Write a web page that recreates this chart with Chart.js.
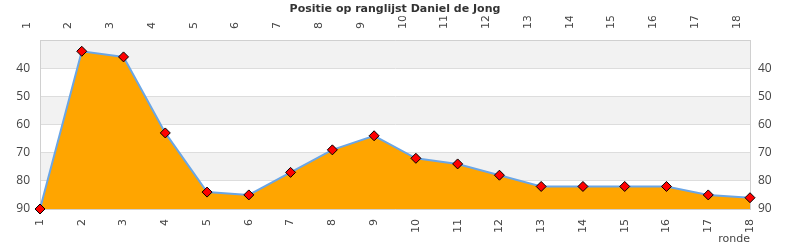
<!DOCTYPE html>
<html>
<head>
<meta charset="utf-8">
<script src="https://cdn.jsdelivr.net/npm/chart.js@4"></script>
<style>
html,body{margin:0;padding:0;background:#fff;}
#wrap{width:790px;height:250px;position:relative;}
</style>
</head>
<body>
<div id="wrap"><canvas id="c" width="790" height="250"></canvas></div>
<script>
const rounds = ['1','2','3','4','5','6','7','8','9','10','11','12','13','14','15','16','17','18'];
const positions = [90,34,36,63,84,85,77,69,64,72,74,78,82,82,82,82,85,86];
const yTicks = [40,50,60,70,80,90];
const chartTitle = 'Positie op ranglijst Daniel de Jong';
const xTitle = 'ronde';

const tickFont = {family: 'DejaVu Sans', size: 11};
const yFont = {family: 'Open Sans', size: 12};
const textColor = '#444';

const bandsPlugin = {
  id: 'bands',
  beforeDraw(chart) {
    const {ctx, chartArea, scales} = chart;
    ctx.save();
    ctx.fillStyle = '#fff';
    ctx.fillRect(0, 0, chart.width, chart.height);
    const y = scales.y;
    const bands = [[30,40],[50,60],[70,80]];
    ctx.fillStyle = '#f2f2f2';
    bands.forEach(([a,b]) => {
      const p1 = y.getPixelForValue(a), p2 = y.getPixelForValue(b);
      ctx.fillRect(chartArea.left, Math.min(p1,p2), chartArea.right - chartArea.left, Math.abs(p2-p1));
    });
    ctx.restore();
  }
};

new Chart(document.getElementById('c'), {
  type: 'line',
  data: {
    labels: rounds,
    datasets: [{
      data: positions,
      xAxisID: 'x',
      yAxisID: 'y',
      borderColor: '#6aa6e6',
      borderWidth: 2,
      backgroundColor: '#ffa500',
      fill: {value: 90},
      tension: 0,
      pointStyle: 'rectRot',
      pointRadius: 5,
      pointHoverRadius: 5,
      pointBackgroundColor: '#ff0000',
      pointBorderColor: '#000',
      pointBorderWidth: 1,
      clip: false
    }]
  },
  plugins: [bandsPlugin],
  options: {
    responsive: false,
    animation: false,
    events: [],
    layout: {padding: 0},
    plugins: {
      legend: {display: false},
      tooltip: {enabled: false},
      title: {
        display: true,
        text: chartTitle,
        color: '#333',
        font: {family: 'DejaVu Sans', size: 11, weight: 'bold'},
        padding: {top: 3, bottom: 0}
      }
    },
    scales: {
      x: {
        type: 'category',
        position: 'bottom',
        offset: false,
        grid: {display: false, drawTicks: false},
        border: {display: true, color: '#d0d0d0'},
        ticks: {color: textColor, font: tickFont, minRotation: 90, maxRotation: 90, padding: 10, autoSkip: false},
        title: {display: true, text: xTitle, align: 'end', color: textColor, font: {family: 'DejaVu Sans', size: 11}, padding: {top: 0, bottom: 4}},
        afterFit(s) { s.height = 41; }
      },
      x2: {
        type: 'category',
        position: 'top',
        labels: rounds,
        offset: false,
        grid: {display: false, drawTicks: false},
        border: {display: true, color: '#d0d0d0'},
        ticks: {color: textColor, font: tickFont, minRotation: 90, maxRotation: 90, padding: 11, autoSkip: false},
        afterFit(s) { s.height = 23.8; }
      },
      y: {
        position: 'left',
        reverse: true,
        min: 30,
        max: 90,
        afterBuildTicks(s) { s.ticks = [30].concat(yTicks).map(v => ({value: v})); },
        grid: {color: '#dddddd', drawTicks: false},
        border: {display: true, color: '#d0d0d0'},
        ticks: {color: textColor, font: yFont, padding: 10, callback: v => (v === 30 ? '' : v)},
        afterFit(s) { s.width = 40; }
      },
      y2: {
        position: 'right',
        reverse: true,
        min: 30,
        max: 90,
        afterBuildTicks(s) { s.ticks = yTicks.map(v => ({value: v})); },
        grid: {drawOnChartArea: false, drawTicks: false},
        border: {display: true, color: '#d0d0d0'},
        ticks: {color: textColor, font: yFont, padding: 8},
        afterFit(s) { s.width = 40; }
      }
    }
  }
});
</script>
</body>
</html>
